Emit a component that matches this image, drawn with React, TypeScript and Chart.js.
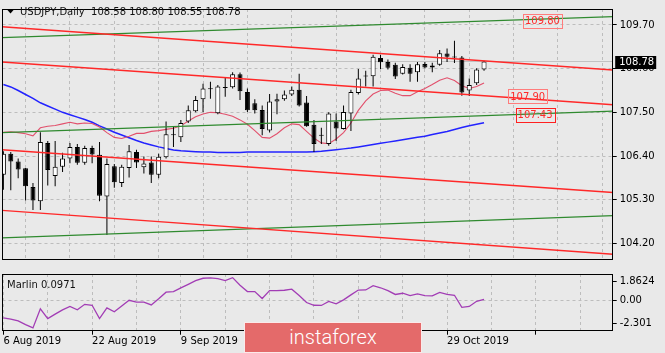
import React, { useEffect, useRef } from 'react';
import { Chart, registerables } from 'chart.js';
Chart.register(...registerables);

// ---------- data ----------
const OPEN = [105.93,106.46,106.26,106.09,105.62,105.26,106.73,105.90,106.13,106.34,106.63,106.23,106.60,106.43,105.38,106.14,105.72,106.10,106.50,106.12,106.24,105.93,106.37,106.92,106.87,107.27,107.53,107.83,108.10,107.48,108.13,108.13,108.46,108.01,107.73,107.56,107.04,107.77,107.83,107.95,108.07,107.75,107.19,106.92,106.70,107.27,107.08,107.47,107.99,108.41,108.41,108.87,108.77,108.70,108.47,108.62,108.51,108.72,108.63,108.70,108.98,108.90,108.88,108.05,108.23,108.58];
const HIGH = [106.52,106.50,106.34,106.10,105.72,107.00,106.78,106.78,106.48,106.73,106.70,106.66,106.66,106.75,106.34,106.20,106.18,106.68,106.56,106.39,106.39,106.46,107.27,107.14,107.31,107.67,107.91,108.22,108.27,108.19,108.37,108.51,108.50,108.10,107.83,107.67,107.96,107.97,108.05,108.15,108.47,107.91,107.31,107.11,107.50,107.47,107.67,108.07,108.59,108.55,108.95,108.95,108.83,108.75,108.71,108.71,108.77,108.77,108.75,109.07,109.11,109.30,108.92,108.35,108.61,108.80];
const LOW = [105.55,105.54,105.84,105.28,105.04,105.04,105.66,105.64,106.00,106.22,106.18,106.18,106.22,105.26,104.41,105.60,105.62,105.86,106.10,105.96,105.72,105.84,106.34,106.63,106.75,107.23,107.50,107.51,107.84,107.45,107.89,108.10,107.81,107.51,107.47,106.92,106.99,107.45,107.79,107.91,107.65,107.14,106.50,106.70,106.66,106.78,107.07,107.03,107.95,108.15,108.15,108.59,108.58,108.34,108.45,108.27,108.27,108.61,108.51,108.67,108.77,108.74,107.92,107.91,108.19,108.55];
const CLOSE = [106.46,106.26,106.06,105.64,105.28,106.75,106.05,106.13,106.34,106.63,106.23,106.60,106.44,105.40,106.20,105.74,106.13,106.52,106.24,106.21,105.93,106.38,106.95,106.93,107.23,107.55,107.81,108.10,108.08,108.15,108.11,108.46,108.03,107.55,107.55,107.08,107.77,107.83,107.95,108.07,107.67,107.15,106.70,106.91,107.47,107.09,107.51,108.01,108.35,108.40,108.90,108.76,108.62,108.40,108.64,108.47,108.71,108.63,108.68,108.99,108.90,108.88,108.00,108.19,108.58,108.78];

const MA_SLOW = [108.20,108.14,108.05,107.95,107.85,107.74,107.66,107.58,107.50,107.44,107.38,107.32,107.25,107.16,107.08,107.00,106.93,106.86,106.79,106.73,106.68,106.63,106.59,106.55,106.53,106.52,106.51,106.50,106.50,106.49,106.49,106.49,106.49,106.50,106.50,106.50,106.50,106.50,106.50,106.50,106.50,106.50,106.51,106.52,106.54,106.56,106.58,106.60,106.63,106.66,106.69,106.72,106.75,106.78,106.81,106.84,106.87,106.90,106.94,106.98,107.02,107.07,107.12,107.16,107.20,107.24];
const MA_FAST = [107.00,107.01,106.99,106.96,106.91,107.11,107.15,107.17,107.21,107.25,107.21,107.23,107.22,107.13,106.99,106.87,106.84,106.90,106.97,106.97,107.02,107.04,107.07,107.10,107.16,107.28,107.39,107.46,107.50,107.49,107.45,107.40,107.31,107.20,107.04,106.87,106.85,106.96,107.11,107.21,107.19,107.02,106.85,106.73,106.71,106.83,106.99,107.23,107.55,107.79,107.96,108.05,108.06,107.98,107.92,107.92,108.02,108.10,108.20,108.31,108.37,108.30,108.17,108.10,108.15,108.24];
const MARLIN = [-1.76,-1.87,-2.05,-2.42,-2.76,-0.85,-1.82,-1.38,-0.96,-0.61,-0.94,-0.40,-0.49,-1.82,-0.76,-1.15,-0.56,0.01,-0.18,-0.18,-0.46,0.15,0.82,0.88,1.24,1.60,1.97,2.21,2.25,2.18,1.97,2.27,1.51,0.88,0.88,0.18,0.97,0.97,1.01,1.12,0.49,-0.22,-0.49,-0.51,-0.11,-0.34,0.05,0.55,1.03,1.04,1.47,1.26,0.97,0.59,0.71,0.48,0.65,0.47,0.45,0.80,0.59,0.51,-0.70,-0.61,-0.09,0.10];

// trend lines: [startIndex, startPrice, endIndex, endPrice]
const RED_LINES = [
  [-0.46, 109.657, 83, 108.558],
  [-0.46, 108.77, 83, 107.684],
  [-0.46, 106.56, 83, 105.474],
  [-0.46, 105.035, 83, 103.921],
];
const GREEN_LINES = [
  [-0.46, 109.38, 83, 109.914],
  [-0.46, 106.987, 83, 107.535],
  [-0.46, 104.336, 83, 104.903],
];

const PRICE_TICKS = [109.7, 108.6, 107.5, 106.4, 105.3, 104.2];
const PRICE_MIN = 103.807;
const PRICE_MAX = 110.102;
const LAST_PRICE = 108.78;
const MARLIN_TICKS = [1.8624, 0, -2.301];
const MARLIN_TICK_LABELS = ['1.8624', '0.00', '-2.301'];
const MARLIN_MIN = -3.036;
const MARLIN_MAX = 2.636;
const MARLIN_NOW = '0.0971';

const X_MIN = -0.12;
const X_MAX = 82.4;
const GRID_INDEX = [0, 6, 12, 18, 24, 30, 36, 42, 48, 54, 60, 66, 72, 78];
const DATE_INDEX = [0, 12, 24, 36, 48, 60, 72];
const DATE_LABELS = ['6 Aug 2019', '22 Aug 2019', '9 Sep 2019', '25 Sep 2019', '11 Oct 2019', '29 Oct 2019', ''];

const LEVEL_TEXT = ['109.80', '107.90', '107.43'];
const LEVEL_INDEX = [72.9, 70.9, 71.9];
const LEVEL_PRICE = [109.81, 107.9, 107.43];

const TITLE = 'USDJPY,Daily  108.58 108.80 108.55 108.78';
const INDICATOR_NAME = 'Marlin';

// ---------- styles ----------
const BG = '#e9e9e9';
const GRID = '#bdbdbd';
const RED = 'rgb(255,40,40)';
const GREEN = '#2f8a2f';
const FONT = '"DejaVu Sans", sans-serif';

Chart.defaults.font.family = FONT;
Chart.defaults.font.size = 10;
Chart.defaults.color = '#000';

const borderPlugin = {
  id: 'frame',
  afterDraw(chart: any) {
    const { ctx, chartArea } = chart;
    ctx.save();
    ctx.strokeStyle = '#000';
    ctx.lineWidth = 1;
    const l = Math.floor(chartArea.left) + 0.5;
    const t = Math.floor(chartArea.top) + 0.5;
    const r = Math.floor(chartArea.right) + 0.5;
    const b = Math.floor(chartArea.bottom) + 0.5;
    ctx.strokeRect(l, t, r - l, b - t);
    ctx.restore();
  },
};

const mainDecor = {
  id: 'mainDecor',
  afterDraw(chart: any) {
    const { ctx, chartArea, scales } = chart;
    const xs = scales.x, ys = scales.y;
    ctx.save();
    // title
    ctx.fillStyle = '#000';
    ctx.beginPath();
    ctx.moveTo(7, 9.5); ctx.lineTo(14, 9.5); ctx.lineTo(10.5, 13.5); ctx.closePath();
    ctx.fill();
    ctx.font = '10px ' + FONT;
    ctx.textBaseline = 'middle';
    ctx.textAlign = 'left';
    ctx.fillStyle = '#111';
    ctx.fillText(TITLE, 20, 12);
    // level labels
    LEVEL_TEXT.forEach((txt, i) => {
      const px = xs.getPixelForValue(LEVEL_INDEX[i]);
      const py = ys.getPixelForValue(LEVEL_PRICE[i]);
      const w = ctx.measureText(txt).width;
      ctx.strokeStyle = i === 2 ? '#ff2020' : '#ff7c7c';
      ctx.lineWidth = 1;
      ctx.strokeRect(Math.round(px - w / 2 - 2) + 0.5, Math.round(py - 7) + 0.5, Math.round(w + 4), 14);
      ctx.fillStyle = '#ff2a2a';
      ctx.textAlign = 'center';
      ctx.fillText(txt, px, py + 0.5);
    });
    // last price box
    const py = ys.getPixelForValue(LAST_PRICE);
    ctx.fillStyle = '#000';
    ctx.fillRect(chartArea.right + 2.5, Math.round(py - 6), 41, 13);
    ctx.fillStyle = '#fff';
    ctx.textAlign = 'left';
    ctx.fillText(LAST_PRICE.toFixed(2), chartArea.right + 6.5, Math.round(py) + 0.5);
    ctx.restore();
  },
};

const subDecor = {
  id: 'subDecor',
  afterDraw(chart: any) {
    const { ctx, chartArea } = chart;
    ctx.save();
    ctx.font = '10px ' + FONT;
    ctx.textBaseline = 'middle';
    ctx.textAlign = 'left';
    ctx.fillStyle = '#111';
    ctx.fillText(INDICATOR_NAME + ' ' + MARLIN_NOW, chartArea.left + 4.5, chartArea.top + 11);
    ctx.restore();
  },
};

function lineDs(pts: number[][], color: string, width: number, order: number) {
  return {
    type: 'line',
    data: pts.map(([x, y]) => ({ x, y })),
    borderColor: color,
    borderWidth: width,
    pointRadius: 0,
    tension: 0,
    fill: false,
    order,
  };
}

export default function App() {
  const mainRef = useRef<HTMLCanvasElement>(null);
  const subRef = useRef<HTMLCanvasElement>(null);

  useEffect(() => {
    const trend: any[] = [];
    RED_LINES.forEach((l) => trend.push(lineDs([[l[0], l[1]], [l[2], l[3]]], RED, 1.4, 0)));
    GREEN_LINES.forEach((l) => trend.push(lineDs([[l[0], l[1]], [l[2], l[3]]], GREEN, 1.4, 0)));

    const bodies = {
      type: 'bar',
      data: OPEN.map((o, i) => ({ x: i, y: [o, CLOSE[i]] })),
      backgroundColor: OPEN.map((o, i) => (CLOSE[i] >= o ? '#ffffff' : '#000000')),
      borderColor: '#000',
      borderWidth: 1,
      borderSkipped: false,
      barThickness: 5,
      minBarLength: 1,
      grouped: false,
      inflateAmount: 0,
      order: 1,
    };
    const wicks = {
      type: 'bar',
      data: LOW.map((l, i) => ({ x: i, y: [l, HIGH[i]] })),
      backgroundColor: '#000',
      borderWidth: 0,
      barThickness: 1,
      grouped: false,
      inflateAmount: 0,
      order: 2,
    };
    const fast = lineDs(MA_FAST.map((v, i) => [i, v]), '#e2506c', 1.1, 3);
    const slow = lineDs(MA_SLOW.map((v, i) => [i, v]), '#2323ff', 1.5, 3);
    const lastLine = lineDs([[-1, LAST_PRICE], [83, LAST_PRICE]], '#c2c2c2', 1, 4);

    const main = new Chart(mainRef.current as HTMLCanvasElement, {
      type: 'bar',
      data: { datasets: [...trend, bodies, wicks, fast, slow, lastLine] as any },
      options: {
        animation: false,
        responsive: false,
        devicePixelRatio: 1,
        events: [],
        layout: { padding: { left: 2.5, top: 4, right: 0, bottom: 3 } },
        plugins: { legend: { display: false }, tooltip: { enabled: false } },
        scales: {
          x: {
            type: 'linear',
            min: X_MIN,
            max: X_MAX,
            offset: false,
            afterBuildTicks: (s: any) => { s.ticks = GRID_INDEX.map((v) => ({ value: v })); },
            afterFit: (s: any) => { s.height = 0; },
            ticks: { display: false },
            grid: { color: GRID, drawTicks: false, borderDash: [3, 3] } as any,
            border: { display: false, dash: [3, 3] },
          },
          y: {
            type: 'linear',
            position: 'right',
            min: PRICE_MIN,
            max: PRICE_MAX,
            afterBuildTicks: (s: any) => { s.ticks = PRICE_TICKS.map((v) => ({ value: v })); },
            afterFit: (s: any) => { s.width = 52.3; },
            ticks: { callback: (v: any) => Number(v).toFixed(2), padding: 3, color: '#000', font: { size: 10 } },
            grid: { color: GRID, tickLength: 4, tickColor: '#000', borderDash: [3, 3] } as any,
            border: { display: false, dash: [3, 3] },
          },
        },
      } as any,
      plugins: [borderPlugin, mainDecor],
    });

    const sub = new Chart(subRef.current as HTMLCanvasElement, {
      type: 'line',
      data: {
        datasets: [lineDs(MARLIN.map((v, i) => [i, v]), '#a23db5', 1.3, 0)] as any,
      },
      options: {
        animation: false,
        responsive: false,
        devicePixelRatio: 1,
        events: [],
        layout: { padding: { left: 2.5, top: 3.3, right: 0, bottom: 0 } },
        plugins: { legend: { display: false }, tooltip: { enabled: false } },
        scales: {
          x: {
            type: 'linear',
            min: X_MIN,
            max: X_MAX,
            afterBuildTicks: (s: any) => { s.ticks = GRID_INDEX.map((v) => ({ value: v })); },
            afterFit: (s: any) => { s.height = 22.3; },
            ticks: {
              callback: (v: any) => { const k = DATE_INDEX.indexOf(Number(v)); return k >= 0 ? DATE_LABELS[k] : ''; },
              align: 'start',
              maxRotation: 0,
              minRotation: 0,
              autoSkip: false,
              padding: 1,
              color: '#000',
              font: { size: 10 },
            },
            grid: {
              color: GRID,
              tickLength: 4,
              tickColor: (c: any) => (c.tick && DATE_INDEX.indexOf(c.tick.value) >= 0 ? '#000' : 'rgba(0,0,0,0)'),
              borderDash: [3, 3],
            } as any,
            border: { display: false, dash: [3, 3] },
          },
          y: {
            type: 'linear',
            position: 'right',
            min: MARLIN_MIN,
            max: MARLIN_MAX,
            afterBuildTicks: (s: any) => { s.ticks = MARLIN_TICKS.map((v) => ({ value: v })); },
            afterFit: (s: any) => { s.width = 52.3; },
            ticks: {
              callback: (v: any) => { const k = MARLIN_TICKS.indexOf(Number(v)); return k >= 0 ? MARLIN_TICK_LABELS[k] : ''; },
              padding: 3,
              color: '#000',
              font: { size: 10 },
            },
            grid: {
              color: (c: any) => (c.tick && c.tick.value === 0 ? GRID : 'rgba(0,0,0,0)'),
              tickLength: 4,
              tickColor: '#000',
              borderDash: [3, 3],
            } as any,
            border: { display: false, dash: [3, 3] },
          },
        },
      } as any,
      plugins: [borderPlugin, subDecor],
    });

    return () => { main.destroy(); sub.destroy(); };
  }, []);

  return (
    <div style={{ position: 'fixed', left: 0, top: 0, width: 665, height: 353, background: BG, overflow: 'hidden' }}>
      <canvas ref={mainRef} width={665} height={268} style={{ position: 'absolute', left: 0, top: 0, width: 665, height: 268 }} />
      <canvas ref={subRef} width={665} height={88} style={{ position: 'absolute', left: 0, top: 265, width: 665, height: 88 }} />
      <div
        style={{
          position: 'absolute', left: 244, top: 322, width: 178, height: 31, boxSizing: 'border-box',
          border: '1px solid rgba(255,255,255,0.85)', background: '#e46a6a', color: '#fff',
          font: '300 20px Roboto, sans-serif', lineHeight: '28px', textAlign: 'center',
        }}
      >
        instaforex
      </div>
    </div>
  );
}
